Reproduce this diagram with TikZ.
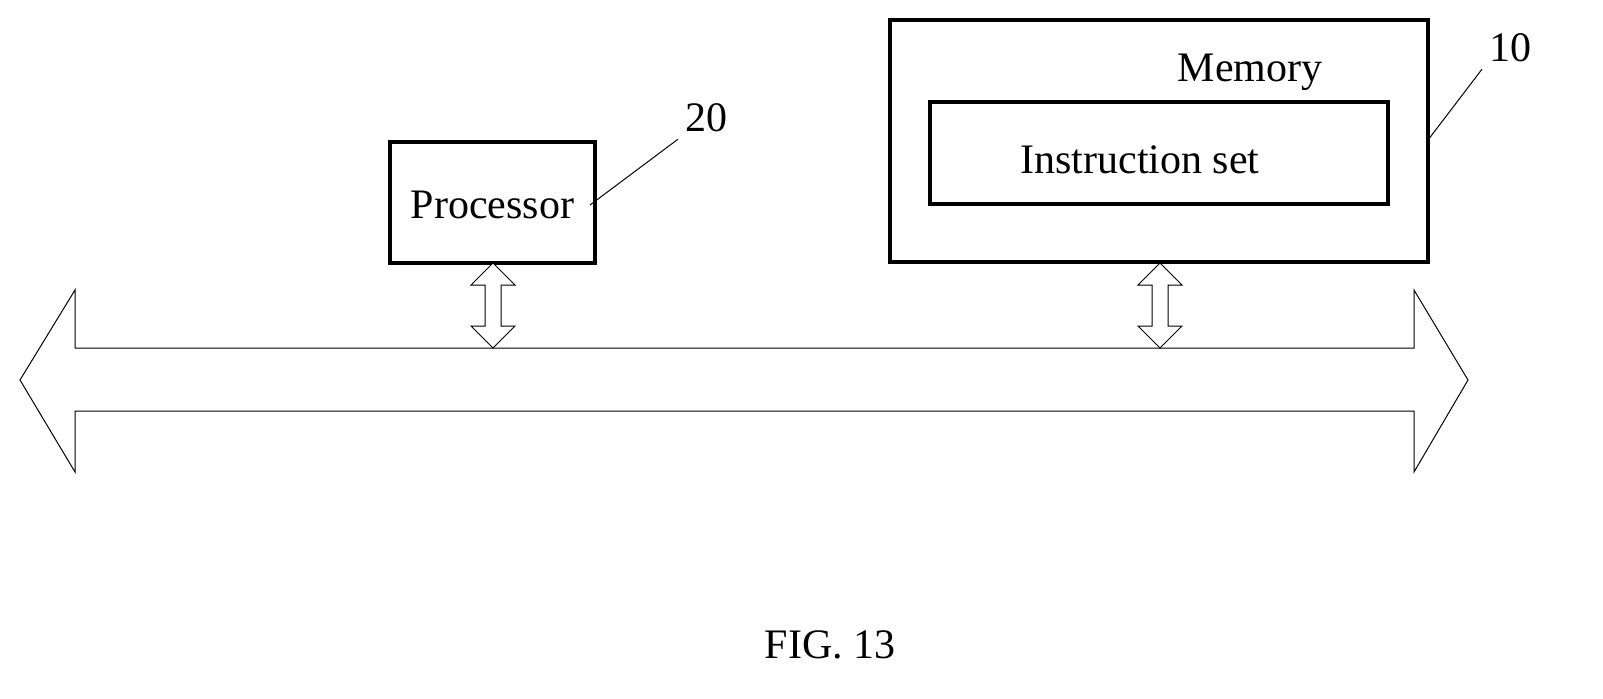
\documentclass[tikz,border=0pt]{standalone}
\usepackage{fontspec}
\setmainfont{Liberation Serif}
\begin{document}
\begin{tikzpicture}[x=0.5pt,y=-0.5pt,
  box/.style={draw,line width=1.6pt},
  lbl/.style={font=\fontsize{21}{24}\selectfont},
  thin/.style={draw,line width=0.5pt}]
\useasboundingbox (0,0) rectangle (1603,698);
% bus
\draw[thin,fill=white] (20,380) -- (75,290) -- (75,348) -- (1414,348) -- (1414,290) -- (1468,380) -- (1414,472) -- (1414,411) -- (75,411) -- (75,472) -- cycle;
% boxes
\node[box,minimum width=102.5pt,minimum height=60.5pt] (proc) at (492.5,202.5) {};
\node[lbl] (proctext) at (492.5,205) {Processor};
\node[box,minimum width=269pt,minimum height=121pt] (mem) at (1159,141) {};
\node[lbl] (memtext) at (1250,72) {Memory};
\node[box,minimum width=229pt,minimum height=51pt] (inst) at (1159,153) {};
\node[lbl] (insttext) at (1140,160) {Instruction set};
\node[lbl] (n20) at (706,118) {20};
\node[lbl] (n10) at (1510,48) {10};
\coordinate (l20) at (590,205);
\coordinate (l10) at (1428,140);
\draw[thin] (l20) -- (n20.south west);
\draw[thin] (l10) -- (n10.south west);
% small double arrows
\foreach \x/\n in {493/a,1160/b}{
\draw[thin,fill=white] (\x,263) -- (\x+22,285) -- (\x+8,285) -- (\x+8,326) -- (\x+22,326) -- (\x,348) -- (\x-22,326) -- (\x-8,326) -- (\x-8,285) -- (\x-22,285) -- cycle;
}
\node[lbl] (fig) at (830,645) {FIG. 13};
\end{tikzpicture}
\end{document}
